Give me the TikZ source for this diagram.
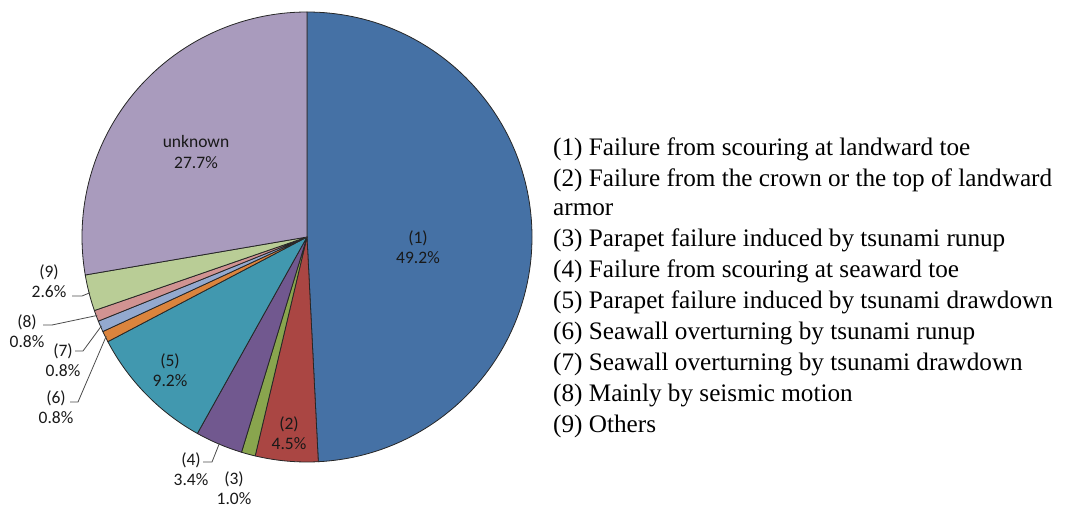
\documentclass[tikz,border=0pt]{standalone}
\usepackage{fontspec}
\setmainfont{Liberation Serif}
\newfontfamily\labfont{Carlito}
\definecolor{c1}{HTML}{4571A5}
\definecolor{c2}{HTML}{AA4643}
\definecolor{c3}{HTML}{89A54E}
\definecolor{c4}{HTML}{71588F}
\definecolor{c5}{HTML}{4198AF}
\definecolor{c6}{HTML}{DB843D}
\definecolor{c7}{HTML}{93A9CF}
\definecolor{c8}{HTML}{D19392}
\definecolor{c9}{HTML}{B9CD96}
\definecolor{cu}{HTML}{A99BBD}
\newcommand\pieslice[3]{\filldraw[slice, fill=#1] (0,0) -- (#2:225) arc[start angle=#2, end angle=#3, radius=225] -- cycle;}
\begin{document}
\begin{tikzpicture}[x=1pt,y=1pt,
  slice/.style={draw=black!85, line width=0.8pt, line join=round},
  lab/.style={font=\labfont\fontsize{17.5}{20.5}\selectfont, align=center, inner sep=0pt, text=black!90},
  leg/.style={font=\fontsize{25.2}{30}\selectfont, anchor=west, inner sep=0pt},
  leader/.style={draw=black!70, line width=0.8pt}]
\useasboundingbox (0,0) rectangle (1090,507);
\begin{scope}[shift={(307,270)}]
  \pieslice{c1}{90}{-87.12}
  \pieslice{c2}{-87.12}{-103.32}
  \pieslice{c3}{-103.32}{-106.92}
  \pieslice{c4}{-106.92}{-119.16}
  \pieslice{c5}{-119.16}{-152.28}
  \pieslice{c6}{-152.28}{-155.16}
  \pieslice{c7}{-155.16}{-158.04}
  \pieslice{c8}{-158.04}{-160.92}
  \pieslice{c9}{-160.92}{-170.28}
  \pieslice{cu}{-170.28}{-270}
  \coordinate (p9) at (-165.6:224);
  \coordinate (p8) at (-159.5:224);
  \coordinate (p7) at (-156.6:224);
  \coordinate (p6) at (-153.7:224);
  \coordinate (p4) at (-113.0:224);
\end{scope}
% slice labels
\node[lab] (n1) at (418,260) {(1)\\49.2\%};
\node[lab] (nu) at (196,355) {unknown\\27.7\%};
\node[lab] (n2) at (289,74) {(2)\\4.5\%};
\node[lab] (n5) at (170,137) {(5)\\9.2\%};
\node[lab] (n9) at (49,226) {(9)\\2.6\%};
\node[lab] (n8) at (27,176) {(8)\\0.8\%};
\node[lab] (n7) at (63,147) {(7)\\0.8\%};
\node[lab] (n6) at (56,100) {(6)\\0.8\%};
\node[lab] (n4) at (191,38) {(4)\\3.4\%};
\node[lab] (n3) at (234,19) {(3)\\1.0\%};
% leaders
\coordinate (q9) at (72,211);
\coordinate (q8) at (43,182);
\coordinate (q7) at (75,156);
\coordinate (q6) at (70,105);
\coordinate (q4) at (203,45);
\draw[leader] (q9) -- ++(10,0) -- (p9);
\draw[leader] (q8) -- ++(9,0) -- (p8);
\draw[leader] (q7) -- ++(8,0) -- (p7);
\draw[leader] (q6) -- ++(8,0) -- (p6);
\draw[leader] (q4) -- ++(9,0) -- (p4);
% legend
\node[leg] (l1) at (553,358) {(1) Failure from scouring at landward toe};
\node[leg] (l2) at (553,327) {(2) Failure from the crown or the top of landward};
\node[leg] (l2b) at (553,297) {armor};
\node[leg] (l3) at (553,267) {(3) Parapet failure induced by tsunami runup};
\node[leg] (l4) at (553,236) {(4) Failure from scouring at seaward toe};
\node[leg] (l5) at (553,205) {(5) Parapet failure induced by tsunami drawdown};
\node[leg] (l6) at (553,174) {(6) Seawall overturning by tsunami runup};
\node[leg] (l7) at (553,143) {(7) Seawall overturning by tsunami drawdown};
\node[leg] (l8) at (553,112) {(8) Mainly by seismic motion};
\node[leg] (l9) at (553,81) {(9) Others};
\end{tikzpicture}
\end{document}
